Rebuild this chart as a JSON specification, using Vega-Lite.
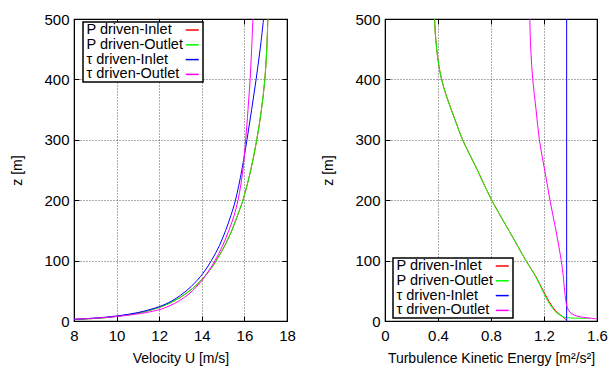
{
  "$schema": "https://vega.github.io/schema/vega-lite/v6.json",
  "background": "white",
  "padding": {"left": 10, "top": 11, "right": 0, "bottom": 0},
  "spacing": 25,
  "config": {
    "font": "Liberation Sans",
    "view": {"stroke": "black", "strokeWidth": 1.2},
    "axis": {
      "domainColor": "black",
      "tickColor": "black",
      "tickSize": -5,
      "labelFlush": false,
      "labelPadding": 12,
      "labelFontSize": 15,
      "labelColor": "black",
      "titleFontSize": 14,
      "titleFontWeight": "normal",
      "titleColor": "black",
      "gridColor": "#333",
      "gridDash": [1, 2],
      "gridWidth": 1,
      "gridOpacity": 0.8
    },
    "axisY": {"labelPadding": 10, "titlePadding": 19},
    "axisX": {"titlePadding": 8},
    "legend": {
      "title": null,
      "fillColor": "white",
      "strokeColor": "black",
      "strokeWidth": 1.5,
      "padding": 0.5,
      "labelFontSize": 14.5,
      "labelColor": "black",
      "symbolType": "stroke",
      "symbolSize": 169,
      "symbolStrokeWidth": 1.5,
      "labelOffset": -113.25,
      "symbolOffset": 101.25,
      "rowPadding": -0.2,
      "labelLimit": 200
    }
  },
  "datasets": {
    "vel": [
      {"s": "P driven-Inlet", "z": 2.5, "u": 8.04}, {"s": "P driven-Inlet", "z": 5, "u": 9.29}, {"s": "P driven-Inlet", "z": 8.3, "u": 10.15}, {"s": "P driven-Inlet", "z": 13, "u": 11.01}, {"s": "P driven-Inlet", "z": 22, "u": 11.95}, {"s": "P driven-Inlet", "z": 30, "u": 12.51}, {"s": "P driven-Inlet", "z": 40, "u": 13.03}, {"s": "P driven-Inlet", "z": 50, "u": 13.43}, {"s": "P driven-Inlet", "z": 60, "u": 13.76}, {"s": "P driven-Inlet", "z": 72, "u": 14.09}, {"s": "P driven-Inlet", "z": 85, "u": 14.39}, {"s": "P driven-Inlet", "z": 100, "u": 14.68}, {"s": "P driven-Inlet", "z": 125, "u": 15.08}, {"s": "P driven-Inlet", "z": 150, "u": 15.41}, {"s": "P driven-Inlet", "z": 175, "u": 15.68}, {"s": "P driven-Inlet", "z": 200, "u": 15.93}, {"s": "P driven-Inlet", "z": 250, "u": 16.3}, {"s": "P driven-Inlet", "z": 300, "u": 16.58}, {"s": "P driven-Inlet", "z": 350, "u": 16.8}, {"s": "P driven-Inlet", "z": 400, "u": 16.96}, {"s": "P driven-Inlet", "z": 450, "u": 17.05}, {"s": "P driven-Inlet", "z": 500, "u": 17.1},
      {"s": "P driven-Outlet", "z": 2.5, "u": 8.04}, {"s": "P driven-Outlet", "z": 5, "u": 9.29}, {"s": "P driven-Outlet", "z": 8.3, "u": 10.15}, {"s": "P driven-Outlet", "z": 13, "u": 11.01}, {"s": "P driven-Outlet", "z": 22, "u": 11.95}, {"s": "P driven-Outlet", "z": 30, "u": 12.51}, {"s": "P driven-Outlet", "z": 40, "u": 13.03}, {"s": "P driven-Outlet", "z": 50, "u": 13.43}, {"s": "P driven-Outlet", "z": 60, "u": 13.76}, {"s": "P driven-Outlet", "z": 72, "u": 14.09}, {"s": "P driven-Outlet", "z": 85, "u": 14.39}, {"s": "P driven-Outlet", "z": 100, "u": 14.68}, {"s": "P driven-Outlet", "z": 125, "u": 15.08}, {"s": "P driven-Outlet", "z": 150, "u": 15.41}, {"s": "P driven-Outlet", "z": 175, "u": 15.68}, {"s": "P driven-Outlet", "z": 200, "u": 15.93}, {"s": "P driven-Outlet", "z": 250, "u": 16.3}, {"s": "P driven-Outlet", "z": 300, "u": 16.58}, {"s": "P driven-Outlet", "z": 350, "u": 16.8}, {"s": "P driven-Outlet", "z": 400, "u": 16.96}, {"s": "P driven-Outlet", "z": 450, "u": 17.05}, {"s": "P driven-Outlet", "z": 500, "u": 17.1},
      {"s": "τ driven-Inlet", "z": 2.8, "u": 8.0}, {"s": "τ driven-Inlet", "z": 5, "u": 9.05}, {"s": "τ driven-Inlet", "z": 8.3, "u": 10.0}, {"s": "τ driven-Inlet", "z": 14, "u": 11.0}, {"s": "τ driven-Inlet", "z": 23.7, "u": 12.0}, {"s": "τ driven-Inlet", "z": 33, "u": 12.58}, {"s": "τ driven-Inlet", "z": 43, "u": 13.02}, {"s": "τ driven-Inlet", "z": 57, "u": 13.5}, {"s": "τ driven-Inlet", "z": 79, "u": 14.06}, {"s": "τ driven-Inlet", "z": 100, "u": 14.45}, {"s": "τ driven-Inlet", "z": 125, "u": 14.83}, {"s": "τ driven-Inlet", "z": 150, "u": 15.12}, {"s": "τ driven-Inlet", "z": 175, "u": 15.37}, {"s": "τ driven-Inlet", "z": 200, "u": 15.58}, {"s": "τ driven-Inlet", "z": 250, "u": 15.88}, {"s": "τ driven-Inlet", "z": 300, "u": 16.12}, {"s": "τ driven-Inlet", "z": 350, "u": 16.34}, {"s": "τ driven-Inlet", "z": 400, "u": 16.55}, {"s": "τ driven-Inlet", "z": 450, "u": 16.74}, {"s": "τ driven-Inlet", "z": 500, "u": 16.9},
      {"s": "τ driven-Outlet", "z": 3, "u": 8.0}, {"s": "τ driven-Outlet", "z": 5, "u": 9.1}, {"s": "τ driven-Outlet", "z": 7, "u": 9.85}, {"s": "τ driven-Outlet", "z": 11, "u": 10.85}, {"s": "τ driven-Outlet", "z": 18.2, "u": 11.95}, {"s": "τ driven-Outlet", "z": 25, "u": 12.48}, {"s": "τ driven-Outlet", "z": 33.6, "u": 12.95}, {"s": "τ driven-Outlet", "z": 45, "u": 13.4}, {"s": "τ driven-Outlet", "z": 55, "u": 13.7}, {"s": "τ driven-Outlet", "z": 69, "u": 14.05}, {"s": "τ driven-Outlet", "z": 85, "u": 14.36}, {"s": "τ driven-Outlet", "z": 100, "u": 14.62}, {"s": "τ driven-Outlet", "z": 125, "u": 14.98}, {"s": "τ driven-Outlet", "z": 150, "u": 15.27}, {"s": "τ driven-Outlet", "z": 175, "u": 15.52}, {"s": "τ driven-Outlet", "z": 200, "u": 15.7}, {"s": "τ driven-Outlet", "z": 225, "u": 15.83}, {"s": "τ driven-Outlet", "z": 250, "u": 15.93}, {"s": "τ driven-Outlet", "z": 275, "u": 16.0}, {"s": "τ driven-Outlet", "z": 300, "u": 16.06}, {"s": "τ driven-Outlet", "z": 350, "u": 16.17}, {"s": "τ driven-Outlet", "z": 400, "u": 16.27}, {"s": "τ driven-Outlet", "z": 450, "u": 16.34}, {"s": "τ driven-Outlet", "z": 500, "u": 16.4}
    ],
    "tke": [
      {"s": "P driven-Inlet", "z": 500, "k": 0.375}, {"s": "P driven-Inlet", "z": 475, "k": 0.38}, {"s": "P driven-Inlet", "z": 450, "k": 0.39}, {"s": "P driven-Inlet", "z": 425, "k": 0.405}, {"s": "P driven-Inlet", "z": 400, "k": 0.427}, {"s": "P driven-Inlet", "z": 375, "k": 0.46}, {"s": "P driven-Inlet", "z": 350, "k": 0.5}, {"s": "P driven-Inlet", "z": 325, "k": 0.542}, {"s": "P driven-Inlet", "z": 300, "k": 0.586}, {"s": "P driven-Inlet", "z": 250, "k": 0.697}, {"s": "P driven-Inlet", "z": 200, "k": 0.805}, {"s": "P driven-Inlet", "z": 150, "k": 0.935}, {"s": "P driven-Inlet", "z": 100, "k": 1.064}, {"s": "P driven-Inlet", "z": 75, "k": 1.135}, {"s": "P driven-Inlet", "z": 50, "k": 1.195}, {"s": "P driven-Inlet", "z": 37.5, "k": 1.225}, {"s": "P driven-Inlet", "z": 26.5, "k": 1.255}, {"s": "P driven-Inlet", "z": 15, "k": 1.295}, {"s": "P driven-Inlet", "z": 10, "k": 1.325}, {"s": "P driven-Inlet", "z": 5, "k": 1.352}, {"s": "P driven-Inlet", "z": 3, "k": 1.363}, {"s": "P driven-Inlet", "z": 1.5, "k": 1.368},
      {"s": "P driven-Outlet", "z": 500, "k": 0.375}, {"s": "P driven-Outlet", "z": 475, "k": 0.38}, {"s": "P driven-Outlet", "z": 450, "k": 0.39}, {"s": "P driven-Outlet", "z": 425, "k": 0.405}, {"s": "P driven-Outlet", "z": 400, "k": 0.427}, {"s": "P driven-Outlet", "z": 375, "k": 0.46}, {"s": "P driven-Outlet", "z": 350, "k": 0.5}, {"s": "P driven-Outlet", "z": 325, "k": 0.542}, {"s": "P driven-Outlet", "z": 300, "k": 0.586}, {"s": "P driven-Outlet", "z": 250, "k": 0.697}, {"s": "P driven-Outlet", "z": 200, "k": 0.805}, {"s": "P driven-Outlet", "z": 150, "k": 0.935}, {"s": "P driven-Outlet", "z": 100, "k": 1.064}, {"s": "P driven-Outlet", "z": 75, "k": 1.133}, {"s": "P driven-Outlet", "z": 50, "k": 1.19}, {"s": "P driven-Outlet", "z": 37.5, "k": 1.218}, {"s": "P driven-Outlet", "z": 26.5, "k": 1.247}, {"s": "P driven-Outlet", "z": 15, "k": 1.288}, {"s": "P driven-Outlet", "z": 10, "k": 1.318}, {"s": "P driven-Outlet", "z": 7, "k": 1.345}, {"s": "P driven-Outlet", "z": 6, "k": 1.36}, {"s": "P driven-Outlet", "z": 5, "k": 1.4}, {"s": "P driven-Outlet", "z": 4.6, "k": 1.47}, {"s": "P driven-Outlet", "z": 4.4, "k": 1.55},
      {"s": "τ driven-Inlet", "z": 0, "k": 1.371}, {"s": "τ driven-Inlet", "z": 500, "k": 1.371},
      {"s": "τ driven-Outlet", "z": 500, "k": 1.093}, {"s": "τ driven-Outlet", "z": 450, "k": 1.1}, {"s": "τ driven-Outlet", "z": 400, "k": 1.115}, {"s": "τ driven-Outlet", "z": 350, "k": 1.14}, {"s": "τ driven-Outlet", "z": 300, "k": 1.165}, {"s": "τ driven-Outlet", "z": 250, "k": 1.205}, {"s": "τ driven-Outlet", "z": 200, "k": 1.245}, {"s": "τ driven-Outlet", "z": 150, "k": 1.29}, {"s": "τ driven-Outlet", "z": 100, "k": 1.33}, {"s": "τ driven-Outlet", "z": 75, "k": 1.345}, {"s": "τ driven-Outlet", "z": 50, "k": 1.356}, {"s": "τ driven-Outlet", "z": 35, "k": 1.364}, {"s": "τ driven-Outlet", "z": 25, "k": 1.372}, {"s": "τ driven-Outlet", "z": 18, "k": 1.385}, {"s": "τ driven-Outlet", "z": 12, "k": 1.41}, {"s": "τ driven-Outlet", "z": 8, "k": 1.45}, {"s": "τ driven-Outlet", "z": 6, "k": 1.5}, {"s": "τ driven-Outlet", "z": 4.5, "k": 1.56}, {"s": "τ driven-Outlet", "z": 3, "k": 1.62}
    ]
  },
  "hconcat": [
    {
      "width": 213,
      "height": 302,
      "data": {"name": "vel"},
      "layer": [
        {
          "mark": {"type": "line", "strokeWidth": 1, "clip": true, "interpolate": "catmull-rom"},
          "encoding": {
            "x": {"field": "u", "type": "quantitative", "scale": {"domain": [8, 18], "nice": false, "zero": false}, "axis": {"orient": "bottom", "title": "Velocity U [m/s]", "values": [8, 10, 12, 14, 16, 18], "grid": true}},
            "y": {"field": "z", "type": "quantitative", "scale": {"domain": [0, 500], "nice": false}, "axis": {"orient": "left", "title": "z [m]", "values": [0, 100, 200, 300, 400, 500], "grid": true}},
            "color": {"field": "s", "type": "nominal", "scale": {"domain": ["P driven-Inlet", "P driven-Outlet", "τ driven-Inlet", "τ driven-Outlet"], "range": ["#ff0000", "#00ff00", "#0000ff", "#ff00ff"]}, "legend": {"orient": "none", "legendX": 9, "legendY": 3}},
            "order": {"field": "z", "type": "quantitative"}
          }
        },
        {
          "mark": {"type": "point", "opacity": 0},
          "encoding": {
            "x": {"field": "u", "type": "quantitative", "axis": {"orient": "top", "title": null, "labels": false, "grid": false, "values": [8, 10, 12, 14, 16, 18]}},
            "y": {"field": "z", "type": "quantitative", "axis": {"orient": "right", "title": null, "labels": false, "grid": false, "values": [0, 100, 200, 300, 400, 500]}}
          }
        }
      ],
      "resolve": {"axis": {"x": "independent", "y": "independent"}}
    },
    {
      "width": 212,
      "height": 302,
      "data": {"name": "tke"},
      "layer": [
        {
          "mark": {"type": "line", "strokeWidth": 1, "clip": true, "interpolate": "catmull-rom"},
          "encoding": {
            "x": {"field": "k", "type": "quantitative", "scale": {"domain": [0, 1.6], "nice": false}, "axis": {"orient": "bottom", "title": "Turbulence Kinetic Energy [m²/s²]", "values": [0, 0.4, 0.8, 1.2, 1.6], "format": "~g", "grid": true}},
            "y": {"field": "z", "type": "quantitative", "scale": {"domain": [0, 500], "nice": false}, "axis": {"orient": "left", "title": "z [m]", "values": [0, 100, 200, 300, 400, 500], "grid": true}},
            "color": {"field": "s", "type": "nominal", "scale": {"domain": ["P driven-Inlet", "P driven-Outlet", "τ driven-Inlet", "τ driven-Outlet"], "range": ["#ff0000", "#00ff00", "#0000ff", "#ff00ff"]}, "legend": {"orient": "none", "legendX": 8, "legendY": 239}},
            "order": {"field": "z", "type": "quantitative"}
          }
        },
        {
          "mark": {"type": "point", "opacity": 0},
          "encoding": {
            "x": {"field": "k", "type": "quantitative", "axis": {"orient": "top", "title": null, "labels": false, "grid": false, "values": [0, 0.4, 0.8, 1.2, 1.6]}},
            "y": {"field": "z", "type": "quantitative", "axis": {"orient": "right", "title": null, "labels": false, "grid": false, "values": [0, 100, 200, 300, 400, 500]}}
          }
        }
      ],
      "resolve": {"axis": {"x": "independent", "y": "independent"}}
    }
  ],
  "resolve": {"scale": {"color": "independent"}, "legend": {"color": "independent"}}
}
